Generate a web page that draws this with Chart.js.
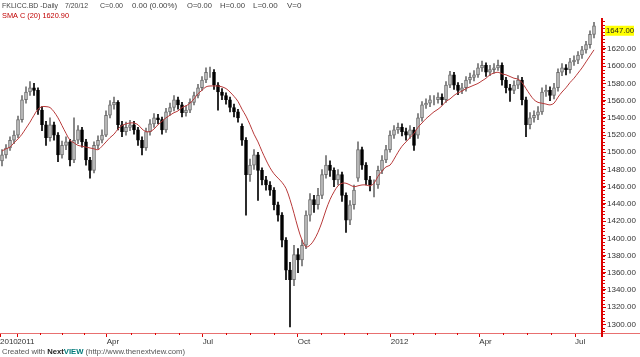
<!DOCTYPE html>
<html><head><meta charset="utf-8">
<script src="https://cdn.jsdelivr.net/npm/chart.js@4.4.1/dist/chart.umd.min.js"></script>
<style>html,body{margin:0;padding:0;background:#fff;}canvas{display:block;}</style>
</head><body>
<canvas id="c" width="640" height="357"></canvas>
<script>
// ---- Data (each candle ~ 2-3 trading days) ----
const opens = [1490,1497,1505,1514,1520,1538,1561,1570,1575,1572,
1549,1532,1517,1532,1520,1497,1508,1512,1491,1514,
1526,1512,1491,1479,1508,1514,1520,1543,1555,1558,
1532,1524,1529,1532,1526,1514,1505,1524,1533,1540,
1538,1526,1547,1552,1561,1555,1546,1549,1558,1566,
1575,1584,1593,1593,1578,1570,1566,1561,1552,1547,
1530,1514,1474,1485,1497,1479,1468,1462,1456,1439,
1427,1398,1363,1352,1381,1375,1392,1427,1445,1439,
1450,1474,1485,1479,1468,1474,1450,1421,1439,1470,
1503,1485,1468,1462,1462,1479,1491,1503,1520,1526,
1529,1524,1520,1526,1520,1540,1555,1557,1561,1561,
1564,1561,1578,1590,1578,1572,1575,1584,1587,1590,
1598,1601,1593,1596,1598,1601,1584,1575,1572,1578,
1584,1561,1532,1540,1543,1547,1570,1572,1566,1575,
1593,1598,1596,1605,1607,1613,1619,1625,1637];
const highs = [1503,1509,1518,1525,1542,1566,1576,1582,1580,1575,
1553,1536,1540,1535,1523,1513,1518,1515,1540,1531,
1529,1515,1494,1512,1519,1526,1548,1560,1564,1560,
1536,1535,1537,1536,1529,1518,1528,1538,1545,1544,
1541,1551,1557,1566,1564,1558,1554,1562,1570,1579,
1588,1598,1599,1596,1581,1574,1569,1564,1556,1550,
1533,1517,1492,1503,1500,1482,1472,1466,1459,1442,
1430,1401,1372,1392,1388,1398,1432,1452,1450,1458,
1480,1496,1490,1482,1480,1477,1453,1444,1462,1512,
1506,1488,1472,1468,1484,1496,1508,1525,1531,1534,
1533,1528,1531,1529,1545,1559,1562,1566,1566,1569,
1568,1582,1594,1593,1581,1580,1588,1592,1595,1603,
1606,1604,1601,1603,1607,1604,1587,1579,1583,1589,
1587,1564,1546,1548,1553,1575,1578,1576,1580,1597,
1603,1602,1609,1612,1617,1623,1629,1641,1651];
const lows = [1484,1493,1502,1510,1517,1535,1557,1566,1566,1544,
1525,1508,1513,1514,1489,1493,1503,1484,1488,1510,
1506,1485,1470,1476,1504,1511,1518,1540,1550,1526,
1518,1520,1525,1521,1508,1497,1502,1520,1529,1533,
1521,1523,1543,1548,1550,1541,1542,1546,1555,1563,
1572,1581,1587,1573,1549,1561,1556,1547,1541,1535,
1508,1427,1466,1480,1444,1462,1456,1450,1433,1420,
1390,1352,1297,1345,1360,1368,1388,1420,1430,1434,
1446,1470,1472,1460,1462,1443,1407,1416,1434,1466,
1480,1462,1455,1448,1458,1475,1488,1500,1516,1522,
1519,1514,1516,1502,1516,1536,1551,1553,1555,1557,
1555,1558,1575,1573,1567,1568,1571,1580,1583,1587,
1594,1588,1589,1592,1595,1578,1569,1559,1568,1574,
1555,1518,1527,1535,1538,1544,1565,1560,1562,1571,
1589,1590,1592,1601,1603,1609,1615,1621,1633];
const closes = [1497,1505,1514,1520,1538,1561,1570,1575,1572,1549,
1532,1517,1532,1520,1497,1508,1512,1491,1514,1526,
1512,1491,1479,1508,1514,1520,1543,1555,1558,1532,
1524,1529,1532,1526,1514,1505,1524,1533,1540,1538,
1526,1547,1552,1561,1555,1546,1549,1558,1566,1575,
1584,1593,1593,1578,1570,1566,1561,1552,1547,1540,
1514,1474,1485,1497,1479,1468,1462,1456,1439,1427,
1398,1363,1352,1381,1375,1392,1427,1445,1439,1450,
1474,1485,1479,1468,1474,1450,1421,1439,1456,1503,
1485,1468,1462,1462,1479,1491,1503,1520,1526,1529,
1524,1520,1526,1508,1540,1555,1557,1561,1561,1564,
1561,1578,1590,1578,1572,1575,1584,1587,1590,1598,
1601,1593,1596,1598,1601,1584,1575,1572,1578,1584,
1561,1532,1540,1543,1547,1570,1572,1566,1575,1593,
1598,1596,1605,1607,1613,1619,1625,1637,1647];
const sma20 = [1501.5,1504,1506,1511,1515.5,1521,1528,1535,1543,1550,
1553,1553,1552,1547,1540,1531,1522,1514,1511,1508,
1507,1506,1505,1504,1503,1507,1512,1517,1521,1527,
1531,1533,1534,1534,1532,1527,1524,1524,1527,1532,
1536,1540,1543,1546,1548,1552,1554,1557,1562,1568,
1572,1576,1577,1577,1577,1576,1574,1570,1565,1559,
1550,1542,1532,1521,1512,1501,1491,1482,1475,1470,
1465,1458,1445,1429,1412,1398,1390,1392,1398,1407,
1419,1433,1445,1454,1461,1464,1464,1462,1460,1461,
1462,1462,1461,1464,1472,1478,1483,1485,1492,1500,
1507,1512,1517,1522,1529,1534,1539,1543,1547,1550,
1554,1559,1562,1566,1569,1571,1574,1576,1578,1580,
1583,1586,1590,1592,1593,1591,1590,1588,1586,1585,
1581,1574,1567,1561,1558,1557,1556,1555,1557,1564,
1570,1575,1581,1586,1592,1598,1605,1612,1619];
const yTickValues = [1300,1320,1340,1360,1380,1400,1420,1440,1460,1480,1500,1520,1540,1560,1580,1600,1620];
const xTickPositions = [-0.5,3.83,26.17,50.17,73.92,97.17,119.33,143.25];
const xTickLabels = ['2010','2011','Apr','Jul','Oct','2012','Apr','Jul'];
const lastPriceLabel = '1647.00';
const headerParts = [['FKLICC.BD -Daily',2,56],['7/20/12',65,23],['C=0.00',100,23],['0.00 (0.00%)',132,45],['O=0.00',187,25],['H=0.00',220,25],['L=0.00',253,25],['V=0',287,15]];
const smaLabel = 'SMA C (20) 1620.90';

const isUp = closes.map((c,i)=>c>=opens[i]);
const FONT = 'Tahoma, "DejaVu Sans", "Liberation Sans", sans-serif';
const FONT2 = '"Liberation Sans", Arial, sans-serif';

const decor = {
  id:'decor',
  afterDraw(chart){
    const ctx = chart.ctx, ca = chart.chartArea;
    const xs = chart.scales.x, ys = chart.scales.y;
    ctx.save();
    // axes lines
    ctx.strokeStyle = '#e87070'; ctx.lineWidth = 1;
    ctx.beginPath(); ctx.moveTo(0, ca.bottom+0.5); ctx.lineTo(640, ca.bottom+0.5); ctx.stroke();
    ctx.strokeStyle = '#dd0000'; ctx.lineWidth = 2;
    ctx.beginPath(); ctx.moveTo(ca.right+1, ca.top); ctx.lineTo(ca.right+1, ca.bottom+4); ctx.stroke();
    // minor y ticks
    ctx.lineWidth = 1; ctx.strokeStyle = '#dd0000';
    for (let v = 1292; v <= 1652; v += 4) {
      const p = Math.round(ys.getPixelForValue(v)) + 0.5;
      ctx.beginPath(); ctx.moveTo(ca.right+2, p); ctx.lineTo(ca.right+4, p); ctx.stroke();
    }
    // minor x ticks (quarter subdivisions)
    for (let k = 1; k < xTickPositions.length - 1; k++) {
      const a = xTickPositions[k], b = xTickPositions[k+1];
      for (let q = 1; q < 4; q++) {
        const px = Math.round(xs.getPixelForValue(a + (b-a)*q/4)) + 0.5;
        ctx.beginPath(); ctx.moveTo(px, ca.bottom); ctx.lineTo(px, ca.bottom+2); ctx.stroke();
      }
    }
    // last price highlight
    const lp = ys.getPixelForValue(closes[closes.length-1]);
    ctx.fillStyle = '#ffff00';
    ctx.fillRect(ca.right+4, lp, 29, 10);
    ctx.fillStyle = '#222'; ctx.font = '8px ' + FONT2; ctx.textBaseline = 'middle'; ctx.textAlign='left';
    ctx.fillText(lastPriceLabel, ca.right+5, lp+5.5, 28);
    // header
    ctx.font = '8px ' + FONT2;
    ctx.fillStyle = '#444';
    headerParts.forEach(([t,x,w]) => ctx.fillText(t, x, 6, w));
    ctx.fillStyle = '#c00000';
    ctx.fillText(smaLabel, 2, 16, 67);
    // footer, compressed to the reference width
    const fy = 352;
    const parts = [['Created with ', 'normal', '#555'], ['Next', 'bold', '#222'], ['VIEW', 'bold', '#007a7a'], [' (http://www.thenextview.com)', 'normal', '#555']];
    let total = 0;
    parts.forEach(p => { ctx.font = p[1] + ' 8px ' + FONT2; p.push(ctx.measureText(p[0]).width); total += p[3]; });
    const k = 183 / total;
    let x = 2;
    parts.forEach(p => { ctx.font = p[1] + ' 8px ' + FONT2; ctx.fillStyle = p[2]; ctx.fillText(p[0], x, fy, p[3]*k); x += p[3]*k; });
    ctx.restore();
  }
};

new Chart(document.getElementById('c'), {
  type: 'bar',
  data: {
    datasets: [
      { type:'line', label:'SMA', data: sma20.map((v,i)=>({x:i,y:v})), borderColor:'#b83a3a', borderWidth:1, pointRadius:0, tension:0.35, order:0 },
      { label:'body', data: closes.map((c,i)=>({x:i,y:[opens[i],c]})), barThickness:3, grouped:false,
        backgroundColor: isUp.map(u=>u?'#c4c4c4':'#000000'), borderColor: isUp.map(u=>u?'#6a6a6a':'#000000'), borderWidth:1, borderSkipped:false, order:1 },
      { label:'wick', data: closes.map((c,i)=>({x:i,y:[lows[i],highs[i]]})), barThickness:1, grouped:false,
        backgroundColor: isUp.map(u=>u?'#707070':'#000000'), borderWidth:0, order:2 }
    ]
  },
  options: {
    responsive:false, animation:false, devicePixelRatio:1,
    layout:{ padding:{ top:18, left:0, right:0, bottom:0 } },
    plugins:{ legend:{display:false}, tooltip:{enabled:false} },
    scales:{
      x:{ type:'linear', min:-0.5, max:149.75, offset:false, position:'bottom',
        afterBuildTicks: s => { s.ticks = xTickPositions.map(v=>({value:v})); },
        afterFit: s => { s.height = 24; },
        ticks:{ autoSkip:false, maxRotation:0, align:'start', padding:0, color:'#333', font:{size:8, family:FONT2},
          callback:(v,idx)=>xTickLabels[idx] },
        grid:{ drawOnChartArea:false, color:'#dd0000', tickLength:4, offset:false },
        border:{ display:false } },
      y:{ type:'linear', position:'right', min:1290, max:1656,
        afterBuildTicks: s => { s.ticks = yTickValues.map(v=>({value:v})); },
        afterFit: s => { s.width = 39; },
        ticks:{ padding:1, color:'#333', font:{size:8, family:FONT2}, callback:v=>Number(v).toFixed(2) },
        grid:{ drawOnChartArea:false, color:'#dd0000', tickLength:5 },
        border:{ display:false } }
    }
  },
  plugins:[decor]
});
</script>
</body></html>
